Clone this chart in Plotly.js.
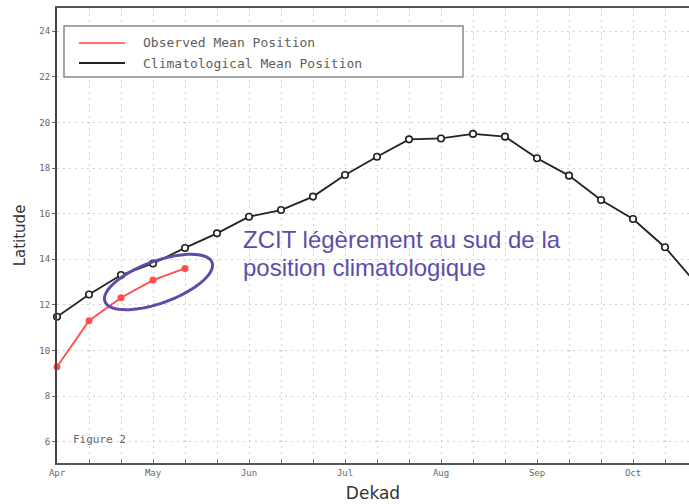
<!DOCTYPE html>
<html>
<head>
<meta charset="utf-8">
<script src="https://cdn.plot.ly/plotly-3.0.1.min.js"></script>
<style>html,body{margin:0;padding:0;background:#fff;}#chart{width:689px;height:504px;}</style>
</head>
<body>
<div id="chart"></div>
<script>
// ---- data ----
var dekads = [0, 1, 2, 3, 4, 5, 6, 7, 8, 9, 10, 11, 12, 13, 14, 15, 16, 17, 18, 19, 20];
var climatological = [11.48, 12.46, 13.31, 13.82, 14.5, 15.14, 15.87, 16.16, 16.75, 17.7, 18.5, 19.26, 19.3, 19.5, 19.38, 18.43, 17.67, 16.6, 15.77, 14.53, 12.9];
var observedDekads = [0, 1, 2, 3, 4];
var observed = [9.29, 11.31, 12.32, 13.09, 13.6];
var monthLabels = ['Apr', 'May', 'Jun', 'Jul', 'Aug', 'Sep', 'Oct'];
var monthDekads = [0, 3, 6, 9, 12, 15, 18];
var latTicks = [6, 8, 10, 12, 14, 16, 18, 20, 22, 24];
var seriesNames = ['Observed Mean Position', 'Climatological Mean Position'];
var noteLines = ['ZCIT légèrement au sud de la', 'position climatologique'];

// ---- layout helpers (pixel -> paper) ----
var W = 689, H = 504, ML = 57, MR = 0, MT = 8, MB = 41;
var PW = W - ML - MR, PH = H - MT - MB;
function px(p) { return (p - ML) / PW; }
function py(p) { return (H - MB - p) / PH; }

// ellipse highlight path
function ellipsePath(cx, cy, a, b, deg) {
  var th = deg * Math.PI / 180, s = '';
  for (var i = 0; i <= 72; i++) {
    var t = i / 72 * 2 * Math.PI;
    var X = cx + a * Math.cos(th) * Math.cos(t) - b * Math.sin(th) * Math.sin(t);
    var Y = cy + a * Math.sin(th) * Math.cos(t) + b * Math.cos(th) * Math.sin(t);
    s += (i === 0 ? 'M' : 'L') + px(X).toFixed(5) + ',' + py(Y).toFixed(5);
  }
  return s + 'Z';
}

var gridC = '#cfcfcf';
var gridDash = '1.5px,4.5px';
var purple = '#5d4dab';
var redC = '#ff4c4c';

var traces = [
  {
    x: dekads, y: climatological, name: seriesNames[1], type: 'scatter', mode: 'lines+markers',
    line: {color: '#222', width: 1.8},
    marker: {symbol: 'circle', size: 6.5, color: '#fff', line: {color: '#222', width: 1.6}},
    cliponaxis: false, showlegend: false
  },
  {
    x: observedDekads, y: observed, name: seriesNames[0], type: 'scatter', mode: 'lines+markers',
    line: {color: redC, width: 1.8},
    marker: {symbol: 'circle', size: 7, color: redC},
    cliponaxis: false, showlegend: false
  }
];

var layout = {
  width: W, height: H,
  margin: {l: ML, r: MR, t: MT, b: MB, pad: 0},
  paper_bgcolor: '#fff', plot_bgcolor: '#fff',
  showlegend: false,
  xaxis: {
    range: [0, 19.75], automargin: false,
    showline: true, linecolor: '#555', linewidth: 2, mirror: true,
    tickmode: 'array', tickvals: monthDekads, ticktext: monthLabels,
    ticks: 'inside', ticklen: 3, tickcolor: '#666',
    tickfont: {family: 'DejaVu Sans Mono', size: 9, color: '#666'},
    showgrid: true, gridcolor: gridC, griddash: gridDash, gridwidth: 1,
    minor: {tickmode: 'linear', tick0: 0, dtick: 1, ticks: 'inside', ticklen: 3, tickcolor: '#666',
            showgrid: true, gridcolor: gridC, griddash: gridDash, gridwidth: 1},
    zeroline: false,
    title: {text: 'Dekad', font: {family: 'DejaVu Sans', size: 17, color: '#333'}, standoff: 10}
  },
  yaxis: {
    range: [5.07, 25.02], automargin: false,
    showline: true, linecolor: '#444', linewidth: 2,
    tickmode: 'array', tickvals: latTicks,
    ticks: 'outside', ticklen: 3, tickcolor: '#666',
    tickfont: {family: 'DejaVu Sans Mono', size: 9, color: '#666'},
    showgrid: true, gridcolor: gridC, griddash: gridDash, gridwidth: 1,
    zeroline: false,
    title: {text: 'Latitude', font: {family: 'DejaVu Sans', size: 15, color: '#333'}, standoff: 10}
  },
  shapes: [
    {type: 'rect', xref: 'paper', yref: 'paper', x0: px(64), x1: px(463), y0: py(77), y1: py(26),
     line: {color: '#888', width: 1.5}, fillcolor: '#fff', layer: 'above'},
    {type: 'line', xref: 'paper', yref: 'paper', x0: px(79), x1: px(125), y0: py(43), y1: py(43),
     line: {color: '#ff7070', width: 2}, layer: 'above'},
    {type: 'line', xref: 'paper', yref: 'paper', x0: px(79), x1: px(125), y0: py(63), y1: py(63),
     line: {color: '#222', width: 2}, layer: 'above'},
    {type: 'path', xref: 'paper', yref: 'paper', path: ellipsePath(158.5, 282, 57, 21, -20),
     line: {color: purple, width: 3}, layer: 'above'}
  ],
  annotations: [
    {xref: 'paper', yref: 'paper', x: px(141), y: py(43), xanchor: 'left', yanchor: 'middle', showarrow: false,
     text: seriesNames[0], font: {family: 'DejaVu Sans Mono', size: 13, color: '#5e5e5e'}},
    {xref: 'paper', yref: 'paper', x: px(141), y: py(63), xanchor: 'left', yanchor: 'middle', showarrow: false,
     text: seriesNames[1], font: {family: 'DejaVu Sans Mono', size: 13, color: '#5e5e5e'}},
    {xref: 'paper', yref: 'paper', x: px(71), y: py(439), xanchor: 'left', yanchor: 'middle', showarrow: false,
     text: 'Figure 2', font: {family: 'DejaVu Sans Mono', size: 11, color: '#666'}},
    {xref: 'paper', yref: 'paper', x: px(241), y: py(240), xanchor: 'left', yanchor: 'middle', showarrow: false,
     text: noteLines[0], font: {family: 'Liberation Sans', size: 24, color: purple}},
    {xref: 'paper', yref: 'paper', x: px(241), y: py(267), xanchor: 'left', yanchor: 'middle', showarrow: false,
     text: noteLines[1], font: {family: 'Liberation Sans', size: 24, color: purple}}
  ]
};

Plotly.newPlot('chart', traces, layout, {displayModeBar: false, staticPlot: true});
</script>
</body>
</html>
